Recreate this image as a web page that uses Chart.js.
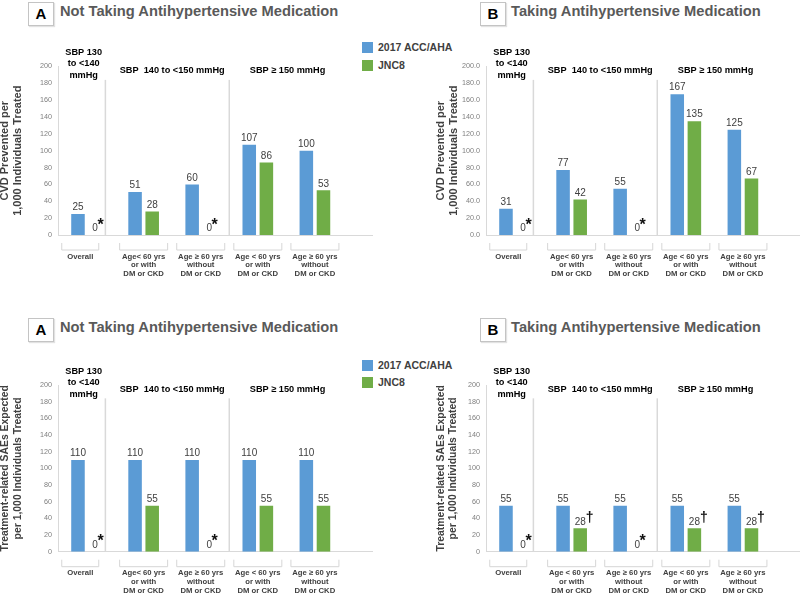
<!DOCTYPE html>
<html>
<head>
<meta charset="utf-8">
<script src="https://cdn.jsdelivr.net/npm/chart.js@4/dist/chart.umd.min.js"></script>
<style>
  body { margin: 0; background: #fff; width: 800px; height: 597px; position: relative; overflow: hidden;
         font-family: 'Liberation Sans', Arial, sans-serif; }
  .box { position: absolute; }
  .tag { position: absolute; width: 24px; height: 22px; border: 1px solid #c4c4c4; box-shadow: 1px 1px 1px #e2e2e2;
         font-weight: bold; font-size: 15px; line-height: 21px; text-align: center; color: #000; }
  .heading { position: absolute; font-weight: bold; font-size: 14.7px; line-height: 23px; color: #595959; white-space: nowrap; }
  .key { position: absolute; left: 362px; font-weight: bold; font-size: 10.5px; color: #404040; white-space: nowrap; }
  .key i { position: absolute; left: 0; top: 0; width: 11px; height: 11px; }
  .key span { position: absolute; left: 16px; top: -1px; line-height: 13px; }
</style>
</head>
<body>

<div class="tag" style="left:28px;top:2px">A</div>
<div class="heading" style="left:60px;top:0px">Not Taking Antihypertensive Medication</div>
<div class="tag" style="left:480px;top:2px">B</div>
<div class="heading" style="left:511px;top:0px">Taking Antihypertensive Medication</div>
<div class="tag" style="left:28px;top:318px">A</div>
<div class="heading" style="left:60px;top:316px">Not Taking Antihypertensive Medication</div>
<div class="tag" style="left:480px;top:318px">B</div>
<div class="heading" style="left:511px;top:316px">Taking Antihypertensive Medication</div>

<div class="key" style="top:42px"><i style="background:#5B9BD5"></i><span>2017 ACC/AHA</span></div>
<div class="key" style="top:60px"><i style="background:#70AD47"></i><span>JNC8</span></div>
<div class="key" style="top:360px"><i style="background:#5B9BD5"></i><span>2017 ACC/AHA</span></div>
<div class="key" style="top:377px"><i style="background:#70AD47"></i><span>JNC8</span></div>

<div class="box" style="left:-2px;top:0px"><canvas id="cvdNot" width="402" height="300"></canvas></div>
<div class="box" style="left:428px;top:0px"><canvas id="cvdTaking" width="372" height="300"></canvas></div>
<div class="box" style="left:-2px;top:300px"><canvas id="saeNot" width="402" height="297"></canvas></div>
<div class="box" style="left:428px;top:300px"><canvas id="saeTaking" width="372" height="297"></canvas></div>

<script>
const FONT = "'Liberation Sans', Arial, sans-serif";
const BLUE = '#5B9BD5';
const GREEN = '#70AD47';

// categories (x axis)
const groupsA = ['Overall', ['Age< 60 yrs', 'or with', 'DM or CKD'], ['Age \u2265 60 yrs', 'without', 'DM or CKD'],
                 ['Age < 60 yrs', 'or with', 'DM or CKD'], ['Age \u2265 60 yrs', 'without', 'DM or CKD']];
const groupsB = ['Overall', ['Age < 60 yrs', 'or with', 'DM or CKD'], ['Age \u2265 60 yrs', 'without', 'DM or CKD'],
                 ['Age < 60 yrs', 'or with', 'DM or CKD'], ['Age \u2265 60 yrs', 'without', 'DM or CKD']];
const sbpHeadings = [['SBP 130', 'to <140', 'mmHg'], ['SBP  140 to <150 mmHg'], ['SBP \u2265 150 mmHg']];

// CVD events prevented per 1,000 treated
const cvdNotAcc = [25, 51, 60, 107, 100];
const cvdNotJnc = [0, 28, 0, 86, 53];
const cvdTakingAcc = [31, 77, 55, 167, 125];
const cvdTakingJnc = [0, 42, 0, 135, 67];

// treatment-related SAEs expected per 1,000 treated
const saeNotAcc = [110, 110, 110, 110, 110];
const saeNotJnc = [0, 55, 0, 55, 55];
const saeTakingAcc = [55, 55, 55, 55, 55];
const saeTakingJnc = [0, 28, 0, 28, 28];

const marksPlain = ['*', '', '*', '', ''];
const marksDagger = ['*', '\u2020', '*', '\u2020', '\u2020'];

const yTicks = [0, 20, 40, 60, 80, 100, 120, 140, 160, 180, 200];
const cvdTitle = ['CVD Prevented per', '1,000 Individuals Treated'];
const saeTitle = ['Treatment-related SAEs Expected', 'per 1,000 Individuals Treated'];

// where the category labels sit on the x scale
const labelSpots = [-0.11, 1, 2, 3, 4];

const panelDecor = {
  id: 'panelDecor',
  beforeDatasetsDraw(chart) {
    const { ctx, chartArea } = chart;
    const x = chart.scales.x, y = chart.scales.y;
    ctx.save();
    // separators between SBP groups
    ctx.strokeStyle = '#d9d9d9';
    ctx.lineWidth = 1.5;
    [0.33, 2.5].forEach(v => {
      const px = x.getPixelForValue(v);
      ctx.beginPath();
      ctx.moveTo(px, y.getPixelForValue(184));
      ctx.lineTo(px, chartArea.bottom);
      ctx.stroke();
    });
    // brackets under the category labels
    ctx.lineWidth = 1;
    ctx.strokeStyle = '#d6d6d6';
    x.ticks.forEach((t, i) => {
      const cx = x.getPixelForValue(t.value);
      const half = i === 0 ? 18.5 : 24;
      const top = chartArea.bottom + 8, bot = chartArea.bottom + 15;
      ctx.beginPath();
      ctx.moveTo(cx - half, top);
      ctx.lineTo(cx - half, bot);
      ctx.lineTo(cx + half, bot);
      ctx.lineTo(cx + half, top);
      ctx.stroke();
    });
    // SBP group headings
    ctx.fillStyle = '#000';
    ctx.font = 'bold 9.2px ' + FONT;
    ctx.textAlign = 'center';
    ctx.textBaseline = 'middle';
    const spots = [-0.05, 1.5, 3.52];
    sbpHeadings.forEach((lines, k) => {
      const px = x.getPixelForValue(spots[k]);
      if (lines.length > 1) {
        lines.forEach((ln, j) => ctx.fillText(ln, px, chartArea.top - 14 + j * 11.5));
      } else {
        ctx.fillText(lines[0], px, chartArea.top + 4.5);
      }
    });
    ctx.restore();
  },
  afterDatasetsDraw(chart, args, opts) {
    const { ctx } = chart;
    ctx.save();
    ctx.textBaseline = 'middle';
    chart.data.datasets.forEach((ds, di) => {
      const meta = chart.getDatasetMeta(di);
      meta.data.forEach((bar, i) => {
        const txt = String(ds.data[i].y);
        const ly = bar.y - 6.5;
        ctx.font = '10px ' + FONT;
        ctx.fillStyle = '#404040';
        ctx.textAlign = 'center';
        ctx.fillText(txt, bar.x, ly);
        const mark = di === 1 ? opts.marks[i] : '';
        if (mark) {
          const right = bar.x + ctx.measureText(txt).width / 2;
          ctx.textAlign = 'left';
          ctx.textBaseline = 'alphabetic';
          ctx.fillStyle = '#111';
          if (mark === '*') {
            ctx.font = 'bold 16px ' + FONT;
            ctx.fillText(mark, right - 0.5, ly + 1);
          } else {
            ctx.font = 'bold 14px ' + FONT;
            ctx.fillText(mark, right, ly + 0.5);
          }
          ctx.textBaseline = 'middle';
        }
      });
    });
    ctx.restore();
  }
};

function makeChart(id, acc, jnc, marks, groups, yTitle, decimals, lay) {
  return new Chart(document.getElementById(id), {
    type: 'bar',
    data: {
      datasets: [
        { label: '2017 ACC/AHA', data: acc.map((v, i) => ({ x: i, y: v })), backgroundColor: BLUE },
        { label: 'JNC8', data: jnc.map((v, i) => ({ x: i, y: v })), backgroundColor: GREEN }
      ]
    },
    options: {
      responsive: false,
      animation: false,
      categoryPercentage: 0.6,
      barPercentage: 0.79,
      layout: { autoPadding: false, padding: { top: lay.top, right: lay.right, left: 0, bottom: 0 } },
      plugins: {
        legend: { display: false },
        tooltip: { enabled: false },
        panelDecor: { marks: marks }
      },
      scales: {
        x: {
          type: 'linear',
          min: -0.5,
          max: 5,
          offset: false,
          grid: { display: false, drawTicks: false },
          border: { color: '#d9d9d9', width: 1 },
          afterBuildTicks: s => { s.ticks = labelSpots.map(v => ({ value: v })); },
          afterFit: s => { s.height = lay.xh; },
          ticks: {
            autoSkip: false,
            maxRotation: 0,
            padding: 17,
            color: '#404040',
            font: { family: FONT, size: 7.7, weight: 'bold', lineHeight: 1.15 },
            callback: (v, i) => groups[i]
          }
        },
        y: {
          min: 0,
          max: 200,
          grid: { display: false, drawTicks: false },
          border: { color: '#d9d9d9', width: 1 },
          afterBuildTicks: s => { s.ticks = yTicks.map(v => ({ value: v })); },
          afterFit: s => { s.width = lay.yw; },
          ticks: {
            padding: 6,
            color: '#7f7f7f',
            font: { family: FONT, size: 7.2 },
            callback: v => v.toFixed(decimals)
          },
          title: {
            display: true,
            text: yTitle,
            color: '#404040',
            font: { family: FONT, size: lay.ts, weight: 'bold', lineHeight: 1.2 },
            padding: { top: lay.tp, bottom: 0 }
          }
        }
      }
    },
    plugins: [panelDecor]
  });
}

makeChart('cvdNot', cvdNotAcc, cvdNotJnc, marksPlain, groupsA, cvdTitle, 0,
  { top: 66.4, right: 28, xh: 65, yw: 60, tp: 0, ts: 11 });
makeChart('cvdTaking', cvdTakingAcc, cvdTakingJnc, marksPlain, groupsA, cvdTitle, 1,
  { top: 66.4, right: 0, xh: 65, yw: 58, tp: 6, ts: 11 });
makeChart('saeNot', saeNotAcc, saeNotJnc, marksPlain, groupsA, saeTitle, 0,
  { top: 85, right: 28, xh: 45.3, yw: 60, tp: 1, ts: 10.4 });
makeChart('saeTaking', saeTakingAcc, saeTakingJnc, marksDagger, groupsB, saeTitle, 0,
  { top: 85, right: 0, xh: 45.3, yw: 58, tp: 6.5, ts: 10.4 });
</script>
</body>
</html>
